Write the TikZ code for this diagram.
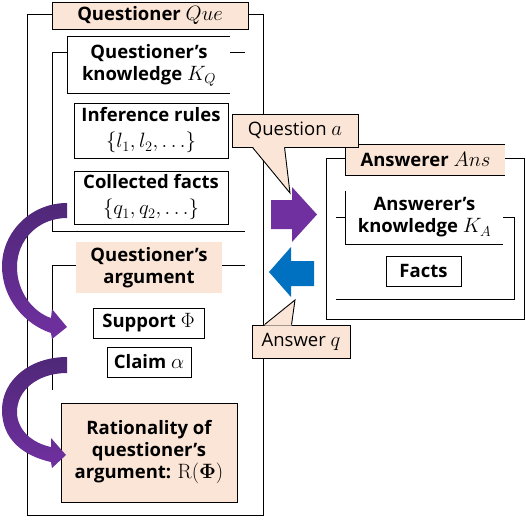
\documentclass[tikz,border=0pt]{standalone}
\usepackage[no-math]{fontspec}
\setmainfont{Open Sans}
\DeclareMathSizes{18.5}{20.74}{14.4}{12}
\usetikzlibrary{calc}
\definecolor{peach}{HTML}{FBE5D6}
\definecolor{apurple}{HTML}{7030A0}
\definecolor{dpurple}{HTML}{4F2878}
\definecolor{ablue}{HTML}{0070C0}
\begin{document}
\begin{tikzpicture}[x=1pt,y=-1pt,line width=0.9pt,
  txt/.style={font=\fontsize{18.5}{22}\selectfont\bfseries,align=center,inner sep=0pt},
  plain/.style={font=\fontsize{18.5}{22}\selectfont,align=center,inner sep=0pt},
  box/.style={txt,draw,fill=white},
  peachbox/.style={txt,draw,fill=peach},
  title/.style={txt,fill=white},
  ptitle/.style={txt,fill=peach},
  area/.style={draw,inner sep=0pt},
  callout/.style={plain,draw,fill=peach},
  curved/.style={top color=dpurple,bottom color=apurple,draw=none},
  block/.style={draw=none}]
\useasboundingbox (0,0) rectangle (526,530);

% Questioner
\node[area,minimum width=236pt,minimum height=501pt] (que) at (145,264.5) {};
\node[peachbox,minimum width=196pt,minimum height=27pt] (quet) at (150,15.5) {Questioner $Que$};

% Questioner's knowledge
\coordinate (kqa) at (245,52);
\coordinate (kqb) at (245,231);
\draw (kqa) -- (52,52) -- (52,231) -- (kqb);
\node[title,minimum width=162pt,minimum height=56pt] (kq) at (149,65) {Questioner’s\\knowledge $K_Q$};
\draw (kq.north east) -- (kq.north west) -- (kq.south west) -- (kq.south east);
\node[box,minimum width=154pt,minimum height=55pt] (ir) at (151,130.5) {Inference rules\\[4pt]\mdseries$\{l_1,l_2,\ldots\}$};
\node[box,minimum width=154pt,minimum height=53pt] (cf) at (151,197.5) {Collected facts\\[4pt]\mdseries$\{q_1,q_2,\ldots\}$};

% Questioner's argument
\coordinate (qaa) at (245,265);
\draw (qaa) -- (52,265) -- (52,390);
\node[ptitle,minimum width=146pt,minimum height=51pt] (qa) at (149,267.5) {Questioner’s\\argument};
\node[box,minimum width=111pt,minimum height=30pt] (sup) at (148.5,323) {Support $\Phi$};
\node[box,minimum width=84pt,minimum height=30pt] (cl) at (149,362) {Claim $\alpha$};
\node[peachbox,minimum width=176pt,minimum height=99pt] (rat) at (149,452.5) {Rationality of\\questioner’s\\argument: $\mathrm{R}(\mathbf{\Phi})$};

% Answerer
\node[area,minimum width=198pt,minimum height=161pt] (ans) at (425,238.5) {};
\node[ptitle,minimum width=159pt,minimum height=30pt] (anst) at (425.5,160) {Answerer $Ans$};
\draw (anst.north east) -- (anst.north west) -- (anst.south west) -- (anst.south east);
\coordinate (kaa) at (336,217);
\coordinate (kab) at (336,299);
\draw (kaa) -- (514,217) -- (514,299) -- (kab);
\node[title,minimum width=157pt,minimum height=53pt] (ka) at (424.5,217.5) {Answerer’s\\knowledge $K_A$};
\draw (ka.north west) -- (ka.south west) -- (ka.south east);
\node[box,minimum width=75pt,minimum height=30pt] (fa) at (423.5,271) {Facts};

% curved arrows
\shade[curved] (67,203) .. controls (30,203) and (2,233) .. (2,266)
  .. controls (2,298) and (24,324) .. (51,333)
  -- (52,339) -- (67,327) -- (52,309) -- (51,318)
  .. controls (33,312) and (17,292) .. (17,267)
  .. controls (17,240) and (38,218) .. (67,218) -- cycle;
\shade[curved] (67,357) .. controls (30,357) and (2,380) .. (2,410)
  .. controls (2,440) and (24,456) .. (51,462)
  -- (52,468) -- (66,455) -- (51,438) -- (51,447)
  .. controls (32,443) and (17,430) .. (17,412)
  .. controls (17,390) and (38,373) .. (67,373) -- cycle;

% callouts
\node[callout,minimum width=126pt,minimum height=33pt] (qc) at (295,130.5) {Question $a$};
\coordinate (qtip) at (290,193);
\fill[peach] ($(qc.south west)+(21,-1)$) -- (qtip) -- ($(qc.south west)+(53,-1)$) -- cycle;
\draw ($(qc.south west)+(21,0)$) -- (qtip) -- ($(qc.south west)+(53,0)$);
\node[callout,minimum width=98pt,minimum height=33pt] (ac) at (301,341.5) {Answer $q$};
\coordinate (atip) at (295,300);
\fill[peach] ($(ac.north west)+(13,1)$) -- (atip) -- ($(ac.north west)+(40,1)$) -- cycle;
\draw ($(ac.north west)+(13,0)$) -- (atip) -- ($(ac.north west)+(40,0)$);

% block arrows
\fill[apurple] (271,200) -- (292,200) -- (292,187) -- (317,214.5) -- (292,242) -- (292,229) -- (271,229) -- cycle;
\fill[ablue] (314,261) -- (291,261) -- (291,247) -- (269,272) -- (291,297) -- (291,286) -- (314,286) -- cycle;
\end{tikzpicture}
\end{document}
